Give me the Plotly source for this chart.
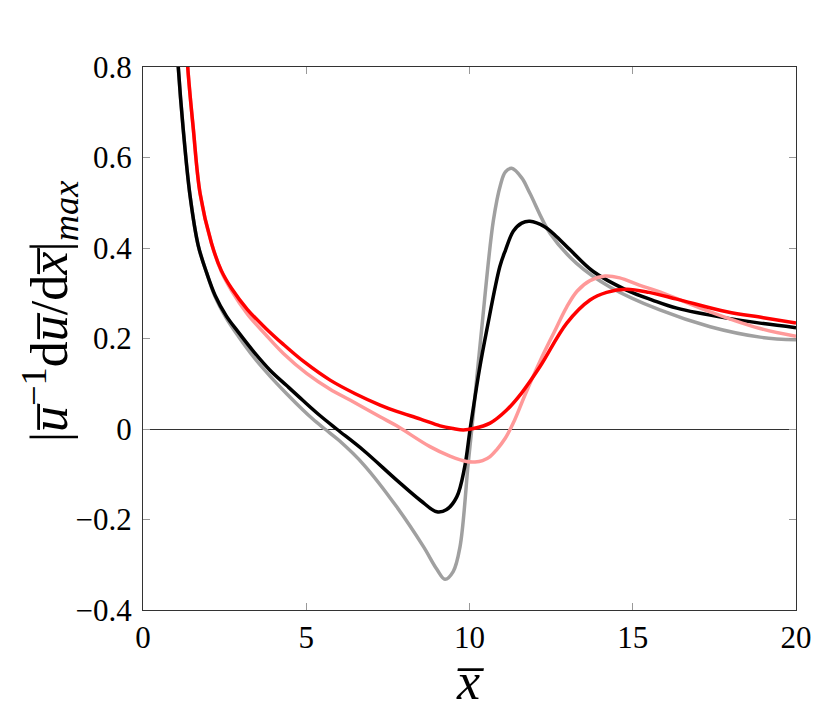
import plotly.graph_objects as go

# curves
x_gray = [0.98, 1.08, 1.23, 1.44, 1.69, 1.95, 2.21, 2.55, 2.92, 3.4, 3.89, 4.4, 4.9, 5.2, 5.57, 6.0, 6.75, 7.77,
          8.59, 9.0, 9.25, 9.5, 9.71, 9.96, 10.07, 10.37, 10.73, 10.95, 11.1, 11.29, 11.6, 11.85, 12.47, 13.28,
          14.3, 15.83, 17.37, 18.9, 20.0]
y_gray = [0.93, 0.80, 0.664, 0.516, 0.406, 0.345, 0.292, 0.245, 0.205, 0.158, 0.117, 0.078, 0.042, 0.022, 0.0,
          -0.025, -0.078, -0.172, -0.26, -0.31, -0.332, -0.315, -0.26, -0.076, 0.0, 0.219, 0.46, 0.54, 0.568,
          0.576, 0.555, 0.521, 0.432, 0.366, 0.314, 0.263, 0.226, 0.203, 0.197]

x_black = [0.98, 1.08, 1.23, 1.44, 1.69, 1.95, 2.21, 2.55, 2.92, 3.4, 3.89, 4.4, 4.9, 5.4, 5.93, 6.75, 7.77, 8.5,
           9.0, 9.3, 9.61, 9.85, 10.02, 10.3, 10.53, 10.93, 11.1, 11.34, 11.6, 11.85, 12.3, 12.67, 13.08, 13.79,
           14.81, 15.6, 16.35, 17.88, 19.0, 20.0]
y_black = [0.93, 0.80, 0.664, 0.516, 0.406, 0.345, 0.295, 0.25, 0.214, 0.17, 0.130, 0.096, 0.063, 0.031, 0.0,
           -0.047, -0.113, -0.158, -0.183, -0.178, -0.15, -0.085, 0.0, 0.13, 0.219, 0.359, 0.395, 0.437, 0.455,
           0.459, 0.447, 0.425, 0.396, 0.348, 0.307, 0.285, 0.267, 0.245, 0.233, 0.224]

x_pink = [1.28, 1.37, 1.54, 1.75, 2.1, 2.4, 2.72, 3.2, 3.74, 4.3, 5.01, 5.73, 6.34, 7.26, 7.77, 8.79, 9.4, 9.91,
          10.17, 10.4, 10.63, 10.83, 11.1, 11.34, 11.7, 12.16, 12.6, 12.98, 13.3, 13.69, 14.15, 14.6, 15.2, 15.83,
          17.37, 18.9, 20.0]
y_pink = [0.93, 0.80, 0.664, 0.52, 0.41, 0.348, 0.305, 0.254, 0.21, 0.167, 0.123, 0.088, 0.064, 0.027, 0.007,
          -0.039, -0.06, -0.072, -0.073, -0.07, -0.061, -0.046, -0.02, 0.013, 0.075, 0.15, 0.215, 0.27, 0.305,
          0.328, 0.338, 0.334, 0.318, 0.303, 0.259, 0.222, 0.205]

x_red = [1.28, 1.37, 1.54, 1.75, 2.1, 2.4, 2.72, 3.2, 3.74, 4.3, 4.96, 5.73, 6.5, 7.26, 7.77, 8.5, 9.1, 9.5, 9.81,
         10.12, 10.63, 11.14, 11.6, 12.16, 12.98, 13.69, 14.2, 14.81, 15.5, 16.35, 17.88, 19.0, 20.0]
y_red = [0.93, 0.80, 0.664, 0.52, 0.41, 0.35, 0.310, 0.264, 0.224, 0.187, 0.147, 0.108, 0.078, 0.053, 0.039, 0.022,
         0.007, 0.001, -0.002, 0.001, 0.013, 0.042, 0.08, 0.138, 0.234, 0.285, 0.302, 0.309, 0.302, 0.287, 0.259,
         0.246, 0.234]

x_ticks = [0, 5, 10, 15, 20]
y_ticks = [-0.4, -0.2, 0, 0.2, 0.4, 0.6, 0.8]
y_ticklabels = ["\u22120.4", "\u22120.2", "0", "0.2", "0.4", "0.6", "0.8"]

fig = go.Figure()
for xs, ys, col in [(x_gray, y_gray, "#a0a0a0"),
                    (x_black, y_black, "black"),
                    (x_pink, y_pink, "#ff9999"),
                    (x_red, y_red, "#ff0000")]:
    fig.add_trace(go.Scatter(x=xs, y=ys, mode="lines", line=dict(color=col, width=3.5, shape="spline"),
                             showlegend=False))

font_family = "Liberation Serif, DejaVu Serif, serif"
fig.update_layout(
    width=829, height=715,
    margin=dict(l=135, r=41, t=59, b=113),
    plot_bgcolor="white", paper_bgcolor="white",
    font=dict(family=font_family, size=31, color="black"),
)
fig.update_xaxes(range=[0, 20], tickvals=x_ticks, ticks="inside", ticklen=7, tickcolor="#999999",
                 showline=True, linecolor="#333333", linewidth=1.2, mirror="allticks", showgrid=False,
                 zeroline=False, automargin=False)
fig.update_yaxes(range=[-0.4, 0.8], tickvals=y_ticks, ticktext=y_ticklabels, ticks="inside", ticklen=7,
                 tickcolor="#999999", showline=True, linecolor="#333333", linewidth=1.2, mirror="allticks",
                 showgrid=False, zeroline=True, zerolinecolor="#333333", zerolinewidth=1.2, automargin=False,
                 ticklabelstandoff=4)

# axis titles as annotations so they can be placed freely
fig.add_annotation(text="<i>x\u0305</i>", xref="paper", yref="paper", x=0.5, y=-0.132,
                   xanchor="center", yanchor="middle", showarrow=False, font=dict(size=52))
fig.add_annotation(text="|<i>u\u0305</i><sup>\u22121</sup>d<i>u\u0305</i>/d<i>x\u0305</i>|<sub><i>max</i></sub>",
                   xref="paper", yref="paper", x=-0.1424, y=0.55, xanchor="center", yanchor="middle",
                   textangle=-90, showarrow=False, font=dict(size=52))

fig.write_html("out.html")
